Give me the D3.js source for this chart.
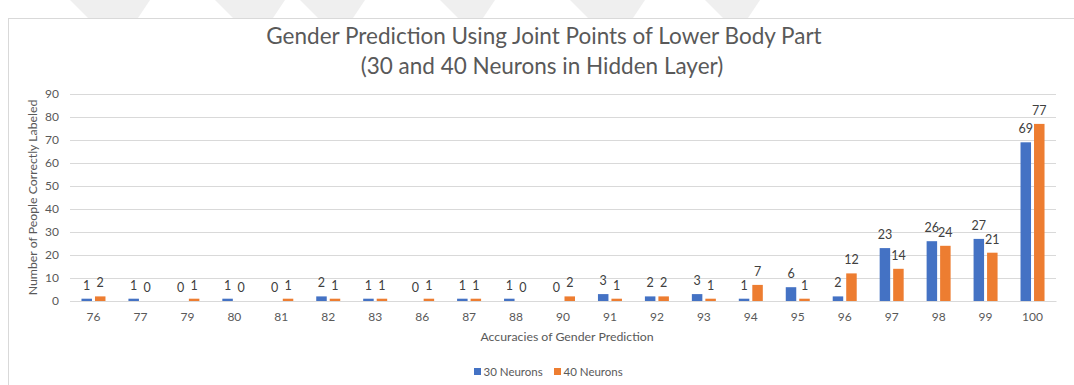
<!DOCTYPE html>
<html>
<head>
<meta charset="utf-8">
<script src="https://cdn.jsdelivr.net/npm/d3@7/dist/d3.min.js"></script>
<style>
  html, body { margin: 0; padding: 0; background: #ffffff; }
  svg { display: block; font-family: "Lato", "Open Sans", sans-serif; }
</style>
</head>
<body>
<svg id="chart" width="1074" height="385"></svg>
<script>
const categories = ["76","77","79","80","81","82","83","86","87","88","90","91","92","93","94","95","96","97","98","99","100"];
const neurons30 = [1,1,0,1,0,2,1,0,1,1,0,3,2,3,1,6,2,23,26,27,69];
const neurons40 = [2,0,1,0,1,1,1,1,1,0,2,1,2,1,7,1,12,14,24,21,77];
const seriesNames = ["30 Neurons","40 Neurons"];
const yTicks = [0,10,20,30,40,50,60,70,80,90];
const titleLines = ["Gender Prediction Using Joint Points of Lower Body Part","(30 and 40 Neurons in Hidden Layer)"];
const xTitle = "Accuracies of Gender Prediction";
const yTitle = "Number of People Correctly Labeled";

const colors = ["#4472C4", "#ED7D31"];
const textGray = "#595959";

const svg = d3.select("#chart");

// faint background watermark shapes above chart frame
const wm = [[70,150],[215,285],[300,365],[440,495],[570,645],[705,760]];
wm.forEach(([a,b]) => {
  svg.append("polygon")
    .attr("points", `${a},0 ${b},0 ${b-12},18 ${a+18},18`)
    .attr("fill", "#efefef");
});

// chart frame
svg.append("rect")
  .attr("x", 8.5).attr("y", 18.5)
  .attr("width", 1080).attr("height", 380)
  .attr("fill", "#ffffff").attr("stroke", "#d9d9d9").attr("stroke-width", 1);

const plot = { left: 70, right: 1056, top: 94, bottom: 301 };

const x = d3.scaleBand().domain(categories).range([plot.left, plot.right]).paddingInner(0).paddingOuter(0);
const y = d3.scaleLinear().domain([0, 90]).range([plot.bottom, plot.top]);

const barW = 10.5, gap = 3;

// gridlines
const yAxis = d3.axisLeft(y).tickValues(yTicks).tickSize(-(plot.right - plot.left)).tickPadding(11);
const gy = svg.append("g").attr("transform", `translate(${plot.left},0)`).call(yAxis);
gy.select(".domain").remove();
gy.selectAll(".tick line").attr("stroke", "#d9d9d9").attr("stroke-width", 1);
gy.selectAll(".tick text").attr("fill", textGray).attr("font-size", "12px").attr("font-family", "Lato, sans-serif");

// x axis
const xAxis = d3.axisBottom(x).tickSize(0).tickPadding(11);
const gx = svg.append("g").attr("transform", `translate(0,${plot.bottom})`).call(xAxis);
gx.select(".domain").attr("stroke", "#d9d9d9");
gx.selectAll(".tick text").attr("fill", textGray).attr("font-size", "12px").attr("font-family", "Lato, sans-serif");

// bars
const data = categories.map((c, i) => ({ c, v: [neurons30[i], neurons40[i]] }));
const groups = svg.append("g").selectAll("g").data(data).join("g");
[0, 1].forEach(s => {
  const xo = s === 0 ? -gap / 2 - barW : gap / 2;
  groups.append("rect")
    .attr("x", d => x(d.c) + x.bandwidth() / 2 + xo)
    .attr("y", d => y(d.v[s]))
    .attr("width", barW)
    .attr("height", d => y(0) - y(d.v[s]))
    .attr("fill", colors[s]);
  groups.append("text")
    .attr("x", d => x(d.c) + x.bandwidth() / 2 + xo + barW / 2)
    .attr("y", d => y(d.v[s]) - 9)
    .attr("text-anchor", "middle")
    .attr("fill", "#404040")
    .attr("font-size", "12.5px")
    .text(d => d.v[s]);
});

// title
svg.append("text")
  .attr("x", 544).attr("y", 44)
  .attr("text-anchor", "middle").attr("fill", textGray)
  .attr("font-size", "22.5px").attr("font-weight", 400)
  .text(titleLines[0]);
svg.append("text")
  .attr("x", 542).attr("y", 74)
  .attr("text-anchor", "middle").attr("fill", textGray)
  .attr("font-size", "22.5px").attr("font-weight", 400)
  .text(titleLines[1]);

// axis titles
svg.append("text")
  .attr("x", 567).attr("y", 341)
  .attr("text-anchor", "middle").attr("fill", textGray)
  .attr("font-size", "12.3px")
  .text(xTitle);
svg.append("text")
  .attr("transform", `translate(37,${(plot.top + plot.bottom) / 2}) rotate(-90)`)
  .attr("text-anchor", "middle").attr("fill", textGray)
  .attr("font-size", "12.3px")
  .text(yTitle);

// legend
const legend = svg.append("g").attr("transform", "translate(474,372)");
let lx = 0;
seriesNames.forEach((n, i) => {
  const g = legend.append("g").attr("transform", `translate(${lx},0)`);
  g.append("rect").attr("x", 0).attr("y", -4).attr("width", 7).attr("height", 7).attr("fill", colors[i]);
  g.append("text").attr("x", 9.5).attr("y", 3.5).attr("fill", textGray).attr("font-size", "11.5px").text(n);
  lx += 80;
});
</script>
</body>
</html>
